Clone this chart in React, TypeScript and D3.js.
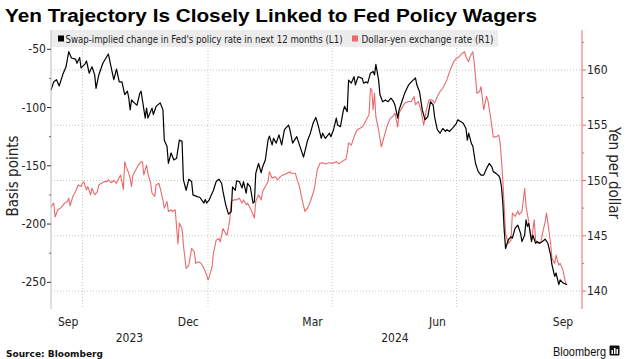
import React from "react";
import * as d3 from "d3";

const fedDates = [
"2023-09-08","2023-09-10","2023-09-12","2023-09-14","2023-09-17","2023-09-19","2023-09-21","2023-09-23","2023-09-26","2023-09-27","2023-09-29","2023-09-30",
"2023-10-03","2023-10-04","2023-10-06","2023-10-08","2023-10-10","2023-10-11","2023-10-13","2023-10-16","2023-10-20","2023-10-22","2023-10-24","2023-10-26","2023-10-28","2023-10-30",
"2023-11-01","2023-11-03","2023-11-04","2023-11-05","2023-11-06","2023-11-08","2023-11-10","2023-11-12","2023-11-13","2023-11-16","2023-11-17","2023-11-18","2023-11-21","2023-11-22","2023-11-24","2023-11-27","2023-11-29","2023-11-30",
"2023-12-02","2023-12-03","2023-12-05","2023-12-07","2023-12-09","2023-12-11","2023-12-13","2023-12-14","2023-12-16","2023-12-18","2023-12-20","2023-12-21","2023-12-24","2023-12-26","2023-12-29","2023-12-30","2023-12-31",
"2024-01-02","2024-01-05","2024-01-07","2024-01-09","2024-01-11","2024-01-12","2024-01-14","2024-01-16","2024-01-18","2024-01-19","2024-01-21","2024-01-22","2024-01-24","2024-01-26","2024-01-27","2024-01-29","2024-01-30",
"2024-02-01","2024-02-03","2024-02-04","2024-02-05","2024-02-07","2024-02-09","2024-02-10","2024-02-12","2024-02-14","2024-02-15","2024-02-17","2024-02-18","2024-02-20","2024-02-22","2024-02-24","2024-02-26","2024-02-29",
"2024-03-01","2024-03-03","2024-03-06","2024-03-08","2024-03-11","2024-03-14","2024-03-16","2024-03-18","2024-03-20","2024-03-22","2024-03-24","2024-03-25","2024-03-27","2024-03-30","2024-03-31",
"2024-04-02","2024-04-04","2024-04-05","2024-04-07","2024-04-09","2024-04-10","2024-04-12","2024-04-13","2024-04-15","2024-04-17","2024-04-18","2024-04-20","2024-04-23","2024-04-24","2024-04-26","2024-04-27","2024-04-29",
"2024-05-01","2024-05-02","2024-05-03","2024-05-05","2024-05-06","2024-05-08","2024-05-10","2024-05-12","2024-05-14","2024-05-16","2024-05-17","2024-05-19","2024-05-20","2024-05-22","2024-05-24","2024-05-27","2024-05-29",
"2024-06-01","2024-06-02","2024-06-04","2024-06-06","2024-06-08","2024-06-10","2024-06-12","2024-06-14","2024-06-15","2024-06-17","2024-06-19","2024-06-21","2024-06-23","2024-06-24","2024-06-26","2024-06-29",
"2024-07-01","2024-07-02","2024-07-04","2024-07-06","2024-07-08","2024-07-09","2024-07-10","2024-07-12","2024-07-13","2024-07-15","2024-07-17","2024-07-19","2024-07-21","2024-07-23","2024-07-25","2024-07-27","2024-07-28","2024-07-30",
"2024-08-01","2024-08-02","2024-08-03","2024-08-04","2024-08-05","2024-08-06","2024-08-08","2024-08-10","2024-08-11","2024-08-13","2024-08-15","2024-08-17","2024-08-18","2024-08-20","2024-08-21","2024-08-22","2024-08-23","2024-08-25","2024-08-26","2024-08-28","2024-08-29","2024-08-31",
"2024-09-02","2024-09-04","2024-09-06","2024-09-08","2024-09-09","2024-09-11","2024-09-12","2024-09-14","2024-09-15","2024-09-17","2024-09-18","2024-09-20"
];
const fedValues = [
-85,-78,-76,-81.5,-70.5,-65,-52,-57.5,-58.5,-62,-57,-66,
-62.5,-60,-70.5,-65,-72,-83.5,-72,-62,-54,-65,-76,-67,-78,-78,
-89,-86,-92,-102,-93.5,-96,-98,-88,-86,-109,-100.5,-109,-100.5,-106,-99,-96,-102,-128,
-133.5,-148,-139,-145,-143.5,-128,-129,-162,-171,-161.5,-163.5,-175,-176.5,-177,-182,-179,-182,
-179,-171,-163.5,-161.5,-165,-172,-183.5,-191.5,-189.5,-168,-171,-163,-163.5,-169,-163.5,-173.5,-165,
-168,-182,-181,-156.5,-148,-156,-151,-145,-128,-124.5,-132,-126.5,-130.5,-123.5,-132,-119,-115,
-119,-130.5,-125,-132,-142.5,-128,-122,-113.5,-108.5,-116.5,-126.5,-122,-126.5,-122,-125,
-119,-109,-115,-116.5,-103.5,-99,-103.5,-76.5,-79,-73.5,-80.5,-73.5,-75,-79,-78,-79,-70.5,
-69,-72,-63,-76.5,-89,-95,-93.5,-95,-92,-95,-98,-109,-102,-95,-88,-80.5,-78,
-74.5,-80.5,-86.5,-102,-110.5,-108,-95,-98,-108,-119,-122,-118,-120.5,-119,-120.5,-116.5,
-113.5,-110.5,-112,-113.5,-118,-128,-122,-131,-133,-148,-155,-158,-158,-152.5,-148,-151,-155,-156.5,
-158.5,-161,-168,-182,-205,-221,-213.5,-211,-212,-203.5,-201,-208,-215,-209.5,-196.5,-202,-199.5,-215,-209.5,-216.5,-215,-216.5,
-215,-213,-216.5,-226.5,-235,-245,-242,-252,-248,-250.5,-251,-252
];

const jpyDates = [
"2023-09-08","2023-09-10","2023-09-11","2023-09-13","2023-09-15","2023-09-17","2023-09-18","2023-09-20","2023-09-21","2023-09-22","2023-09-24","2023-09-26","2023-09-28","2023-09-30",
"2023-10-01","2023-10-02","2023-10-04","2023-10-05","2023-10-07","2023-10-08","2023-10-10","2023-10-12","2023-10-13","2023-10-15","2023-10-17","2023-10-19","2023-10-20","2023-10-22","2023-10-24","2023-10-26","2023-10-27","2023-10-29","2023-10-31",
"2023-11-01","2023-11-02","2023-11-04","2023-11-05","2023-11-06","2023-11-07","2023-11-09","2023-11-11","2023-11-13","2023-11-14","2023-11-15","2023-11-17","2023-11-18","2023-11-20","2023-11-21","2023-11-23","2023-11-24","2023-11-26","2023-11-27","2023-11-29","2023-11-30",
"2023-12-02","2023-12-03","2023-12-05","2023-12-06","2023-12-08","2023-12-10","2023-12-11","2023-12-13","2023-12-14","2023-12-15","2023-12-16","2023-12-18","2023-12-20","2023-12-22","2023-12-23","2023-12-25","2023-12-27","2023-12-29","2023-12-31",
"2024-01-01","2024-01-02","2024-01-04","2024-01-05","2024-01-07","2024-01-09","2024-01-10","2024-01-12","2024-01-14","2024-01-15","2024-01-17","2024-01-18","2024-01-20","2024-01-22","2024-01-24","2024-01-26","2024-01-27","2024-01-29","2024-01-30",
"2024-02-01","2024-02-03","2024-02-04","2024-02-05","2024-02-07","2024-02-09","2024-02-10","2024-02-12","2024-02-14","2024-02-15","2024-02-17","2024-02-19","2024-02-21","2024-02-23","2024-02-25","2024-02-28",
"2024-03-01","2024-03-02","2024-03-05","2024-03-06","2024-03-08","2024-03-10","2024-03-12","2024-03-14","2024-03-16","2024-03-18","2024-03-19","2024-03-21","2024-03-23","2024-03-25","2024-03-27","2024-03-30",
"2024-04-01","2024-04-04","2024-04-06","2024-04-09","2024-04-11","2024-04-12","2024-04-13","2024-04-15","2024-04-17","2024-04-19","2024-04-21","2024-04-23","2024-04-24","2024-04-26","2024-04-28","2024-04-29","2024-04-30",
"2024-05-01","2024-05-02","2024-05-03","2024-05-05","2024-05-07","2024-05-09","2024-05-11","2024-05-13","2024-05-15","2024-05-17","2024-05-19","2024-05-20","2024-05-22","2024-05-24","2024-05-27","2024-05-29","2024-05-31",
"2024-06-01","2024-06-03","2024-06-05","2024-06-07","2024-06-08","2024-06-09","2024-06-11","2024-06-13","2024-06-15","2024-06-17","2024-06-19","2024-06-21","2024-06-24","2024-06-26","2024-06-28","2024-06-29",
"2024-07-01","2024-07-03","2024-07-05","2024-07-07","2024-07-08","2024-07-10","2024-07-11","2024-07-13","2024-07-14","2024-07-15","2024-07-16","2024-07-18","2024-07-19","2024-07-21","2024-07-23","2024-07-24","2024-07-26","2024-07-28","2024-07-30",
"2024-08-01","2024-08-02","2024-08-03","2024-08-04","2024-08-05","2024-08-06","2024-08-08","2024-08-10","2024-08-11","2024-08-13","2024-08-15","2024-08-16","2024-08-18","2024-08-20","2024-08-21","2024-08-23","2024-08-24","2024-08-25","2024-08-27","2024-08-28","2024-08-30",
"2024-09-01","2024-09-02","2024-09-04","2024-09-05","2024-09-06","2024-09-08","2024-09-09","2024-09-11","2024-09-12","2024-09-14","2024-09-15","2024-09-17","2024-09-18","2024-09-19","2024-09-20"
];
const jpyValues = [
147.6,147.95,146.7,147.35,147.5,147.8,147.95,148.1,148.4,147.7,148.55,149,149.6,149.45,
149.75,149.9,149.15,149.45,148.7,149.3,148.7,149,149.6,149.75,149.9,149.9,150.05,149.8,150,149.75,150.05,150.5,149.2,
151.7,151.25,150.65,150.2,149.45,150.5,150.95,151.4,151.7,151.7,150.5,151.4,150.65,149.75,148.85,148.55,149.6,149.75,149.3,148.25,147.5,
148.1,147.2,147.35,147.2,147.35,144.25,146.15,145.65,144.15,143.1,142.05,142.35,143.85,143.55,142.5,142.65,142.5,142.05,141.45,
141.0,141.3,142.2,143.4,144.6,144.75,144.45,145.65,145.2,145.05,146.45,148.1,148.25,148.25,148.4,147.95,148.25,147.8,147.95,
147.5,146.9,146.6,148.1,148.7,148.25,149,149.45,149.9,150.8,150.2,150.35,150.05,150.35,150.5,150.65,
150.8,150.65,150.65,150.2,149.45,148.25,147.2,147.5,148.1,148.85,149.3,150.95,151.55,151.6,151.5,151.6,
151.55,151.7,151.5,151.8,151.9,152.5,153.4,153.2,153.95,154.55,154.7,154.85,155,155.5,155.95,158.35,158.2,
156.4,157.9,155.75,154.55,153.05,153.95,154.85,155.5,155.75,156.1,154.85,156.1,156.55,157,157.15,157.15,157.6,
156.85,157.15,156.4,155,155.65,156.4,157.3,157.3,157,157.6,158.05,158.35,159.1,159.85,160.45,160.75,
161.05,161.2,161.5,161.65,161.2,160.75,161.2,161.65,160.75,159.4,157.9,158.05,158.5,156.4,157.6,157.3,155.75,153.95,153.95,
154.1,153.4,151.85,150.05,147.6,145.2,144.3,144.6,147.05,146.75,147.25,146.9,147.2,149.3,147.65,146.25,145.35,144.6,146.45,144.6,144.3,
144.45,145.2,146.25,147.05,146.15,144.3,142.95,142.5,143.25,142.35,142.5,141.9,141.3,140.7,140.55
];

const leftTicks = [-50, -100, -150, -200, -250];
const leftMinor = [-75, -125, -175, -225];
const rightTicks = [140, 145, 150, 155, 160];
const rightMinor = [142.5, 147.5, 152.5, 157.5, 162.5];
const gridDates = ["2023-10-01", "2024-01-01", "2024-04-01", "2024-07-01"];
const monthLabels = ["Sep", "Dec", "Mar", "Jun", "Sep"];
const monthStarts = ["2023-09-01", "2023-12-01", "2024-03-01", "2024-06-01", "2024-09-01"];
const yearLabels = ["2023", "2024"];
const yearStarts = ["2023-01-01", "2024-01-01"];
const yearEnds = ["2024-01-01", "2025-01-01"];

const legendLabels = [
  "Swap-implied change in Fed's policy rate in next 12 months (L1)",
  "Dollar-yen exchange rate (R1)",
];

const BLACK = "#000000";
const RED = "#ea6a6c";
const parse = d3.timeParse("%Y-%m-%d");
const FONT = "'Liberation Sans Narrow', 'DejaVu Sans Condensed', 'Liberation Sans', sans-serif";

export default function App() {
  const W = 631, H = 359;
  const left = 51, right = 582, top = 30, bottom = 309;
  const domainStart = parse("2023-09-08")!;
  const domainEnd = parse("2024-10-01")!;
  const x = d3.scaleTime().domain([domainStart, domainEnd]).range([left, right]);
  const yL = d3.scaleLinear().domain([-50, -250]).range([49.3, 282.3]);
  const yR = d3.scaleLinear().domain([140, 160]).range([291, 70]);

  const fed = fedDates.map((d, i) => ({ d: parse(d)!, v: fedValues[i] }));
  const jpy = jpyDates.map((d, i) => ({ d: parse(d)!, v: jpyValues[i] }));
  const fedLine = d3.line<any>().x((p) => x(p.d)).y((p) => yL(p.v))(fed) || "";
  const jpyLine = d3.line<any>().x((p) => x(p.d)).y((p) => yR(p.v))(jpy) || "";

  const clampX = (d: Date) => x(d < domainStart ? domainStart : d > domainEnd ? domainEnd : d);

  return (
    <svg width={W} height={H} style={{ position: "absolute", left: 0, top: 0, background: "#fff" }}>
      <rect x={0} y={0} width={W} height={H} fill="#fff" />
      {/* title */}
      <text x={5} y={21.5} fontFamily="'Liberation Sans', Arial, sans-serif" fontWeight="bold" fontSize={18}
        textLength={532} lengthAdjust="spacingAndGlyphs" fill="#000">
        Yen Trajectory Is Closely Linked to Fed Policy Wagers
      </text>

      {/* horizontal grid (right axis) */}
      {rightTicks.map((t) => (
        <line key={"hg" + t} x1={left} x2={right} y1={yR(t)} y2={yR(t)} stroke="#c4c4c4" strokeWidth={1} strokeDasharray="1,2" />
      ))}
      {/* vertical grid */}
      {gridDates.map((g) => (
        <line key={"vg" + g} x1={x(parse(g)!)} x2={x(parse(g)!)} y1={top} y2={bottom} stroke="#c4c4c4" strokeWidth={1} strokeDasharray="1,2" />
      ))}

      {/* legend */}
      <rect x={51} y={30} width={447} height={17} fill="#ececec" />
      <rect x={58} y={35.5} width={6} height={6} fill={BLACK} />
      <text x={65.5} y={42.5} fontFamily={FONT} fontSize={10.5} fill="#222" textLength={277} lengthAdjust="spacingAndGlyphs">{legendLabels[0]}</text>
      <rect x={352} y={35.5} width={6} height={6} fill={RED} />
      <text x={361.5} y={42.5} fontFamily={FONT} fontSize={10.5} fill="#222" textLength={132} lengthAdjust="spacingAndGlyphs">{legendLabels[1]}</text>

      {/* series */}
      <path d={jpyLine} fill="none" stroke={RED} strokeWidth={1.1} strokeLinejoin="round" />
      <path d={fedLine} fill="none" stroke={BLACK} strokeWidth={1.2} strokeLinejoin="round" />

      {/* left axis */}
      <line x1={left} x2={left} y1={top} y2={bottom} stroke="#bdbdbd" strokeWidth={1} />
      {leftTicks.map((t) => (
        <g key={"lt" + t}>
          <line x1={left - 4} x2={left} y1={yL(t)} y2={yL(t)} stroke="#333" strokeWidth={1} />
          <text x={left - 5} y={yL(t) + 4} textAnchor="end" fontFamily={FONT} fontSize={12} fill="#222">{t}</text>
        </g>
      ))}
      {leftMinor.map((t) => (
        <line key={"lm" + t} x1={left - 2} x2={left} y1={yL(t)} y2={yL(t)} stroke="#666" strokeWidth={1} />
      ))}
      <text transform={`translate(18,176) rotate(-90)`} textAnchor="middle" fontFamily={FONT} fontSize={15} fill="#222">Basis points</text>

      {/* right axis */}
      <line x1={right} x2={right} y1={top} y2={bottom} stroke={RED} strokeWidth={1} />
      {rightTicks.map((t) => (
        <g key={"rt" + t}>
          <line x1={right} x2={right + 4} y1={yR(t)} y2={yR(t)} stroke={RED} strokeWidth={1} />
          <text x={right + 5} y={yR(t) + 4} textAnchor="start" fontFamily={FONT} fontSize={12} fill="#222">{t}</text>
        </g>
      ))}
      {rightMinor.map((t) => (
        <line key={"rm" + t} x1={right} x2={right + 2} y1={yR(t)} y2={yR(t)} stroke={RED} strokeWidth={1} />
      ))}
      <text transform={`translate(608.5,173) rotate(90)`} textAnchor="middle" fontFamily={FONT} fontSize={15} fill="#222">Yen per dollar</text>

      {/* x axis labels */}
      {monthLabels.map((m, i) => {
        const s = parse(monthStarts[i])!;
        const e = d3.timeMonth.offset(s, 1);
        const cx = (clampX(s) + clampX(e)) / 2 + 1.5;
        return (
          <text key={"ml" + i} x={cx} y={325.5} textAnchor="middle" fontFamily={FONT} fontSize={12} fill="#222">{m}</text>
        );
      })}
      {yearLabels.map((yl, i) => {
        const cx = (clampX(parse(yearStarts[i])!) + clampX(parse(yearEnds[i])!)) / 2;
        return (
          <text key={"yl" + yl} x={cx} y={341.5} textAnchor="middle" fontFamily={FONT} fontSize={12} fill="#222">{yl}</text>
        );
      })}

      {/* footer */}
      <text x={6} y={356.5} fontFamily="'DejaVu Sans', sans-serif" fontWeight="bold" fontSize={9} fill="#111"
        textLength={97} lengthAdjust="spacingAndGlyphs">Source: Bloomberg</text>
      <text x={553} y={355.5} fontFamily="'Liberation Sans', Arial, sans-serif" fontSize={13} fill="#111"
        textLength={53} lengthAdjust="spacingAndGlyphs">Bloomberg</text>
      <rect x={609.5} y={345.5} width={10} height={10} rx={1} fill="#111" />
      <rect x={611.5} y={350} width={1.5} height={4} fill="#fff" />
      <rect x={614} y={348} width={1.5} height={6} fill="#fff" />
      <rect x={616.5} y={349} width={1.5} height={5} fill="#fff" />
    </svg>
  );
}
